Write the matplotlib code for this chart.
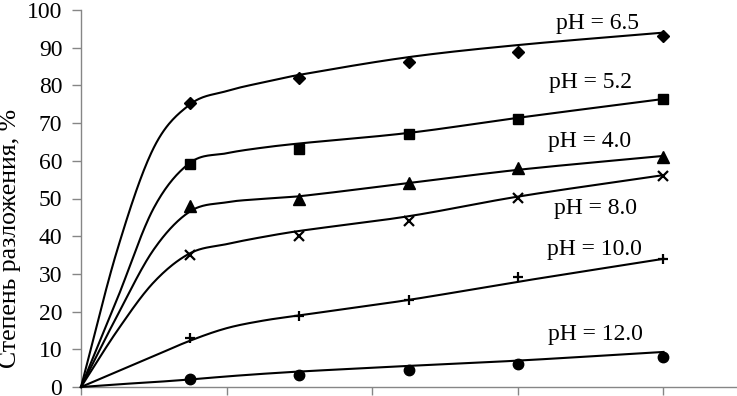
import numpy as np
import matplotlib.pyplot as plt

plt.rcParams['font.family'] = ['Liberation Serif', 'DejaVu Serif']

# время отбора проб (точки) и сетка для сглаженных кривых
t_pts = [15, 30, 45, 60, 80]
t_line = [0, 5, 10, 15, 20, 25, 30, 45, 60, 80]

labels = ['pH = 6.5', 'pH = 5.2', 'pH = 4.0', 'pH = 8.0', 'pH = 10.0', 'pH = 12.0']
markers = ['D', 's', '^', 'x', '+', 'o']

# экспериментальные точки
pts_65 = [75.2, 81.9, 86.1, 88.9, 93.2]
pts_52 = [59.2, 63.0, 67.1, 71.1, 76.4]
pts_40 = [48.0, 50.0, 54.0, 58.0, 61.0]
pts_80 = [35.0, 40.0, 44.1, 50.2, 56.0]
pts_100 = [12.9, 18.9, 23.1, 29.1, 33.9]
pts_120 = [2.0, 3.2, 4.5, 6.1, 7.9]

# сглаженные кривые
line_65 = [0, 36.5, 63.5, 75.0, 78.5, 80.8, 82.8, 87.5, 90.7, 94.0]
line_52 = [0, 23.5, 47.5, 59.5, 62.0, 63.5, 64.6, 67.4, 71.4, 76.4]
line_40 = [0, 19.0, 36.5, 46.6, 49.0, 49.9, 50.6, 54.1, 57.6, 61.3]
line_80 = [0, 15.0, 27.8, 35.5, 37.9, 39.8, 41.4, 45.3, 50.5, 56.2]
line_100 = [0, 4.1, 8.2, 12.3, 15.6, 17.6, 19.0, 23.1, 27.9, 34.0]
line_120 = [0, 0.7, 1.3, 2.0, 2.8, 3.5, 4.1, 5.6, 7.0, 9.3]

# позиции подписей
lab_x = [70.9, 70.0, 69.8, 70.6, 70.5, 70.6]
lab_y = [96.3, 80.7, 65.1, 47.4, 36.5, 13.9]

pts = [pts_65, pts_52, pts_40, pts_80, pts_100, pts_120]
lines = [line_65, line_52, line_40, line_80, line_100, line_120]


def smooth(x, y, n=30):
    # кубический эрмитов сплайн (как сглаживание в Excel)
    x = np.asarray(x, float)
    y = np.asarray(y, float)
    m = np.zeros_like(y)
    m[1:-1] = (y[2:] - y[:-2]) / (x[2:] - x[:-2])
    m[0] = (y[1] - y[0]) / (x[1] - x[0])
    m[-1] = (y[-1] - y[-2]) / (x[-1] - x[-2])
    xs, ys = [], []
    for i in range(len(x) - 1):
        h = x[i + 1] - x[i]
        t = np.linspace(0, 1, n)
        h00 = 2*t**3 - 3*t**2 + 1
        h10 = t**3 - 2*t**2 + t
        h01 = -2*t**3 + 3*t**2
        h11 = t**3 - t**2
        xs.append(x[i] + t*h)
        ys.append(h00*y[i] + h10*h*m[i] + h01*y[i + 1] + h11*h*m[i + 1])
    return np.concatenate(xs), np.concatenate(ys)


fig = plt.figure(figsize=(7.37, 3.96), dpi=100)
ax = fig.add_axes([81/737, 9/396, 656/737, 377/396])

msizes = [6.5, 7.5, 8, 7, 7, 7.5]
for y_l, y_p, mk, ms, lab, lx, ly in zip(lines, pts, markers, msizes, labels, lab_x, lab_y):
    xs, ys = smooth(t_line, y_l)
    ax.plot(xs, ys, color='black', lw=1.5, clip_on=False, zorder=3)
    ax.plot(t_pts, y_p, linestyle='none', marker=mk, ms=ms, color='black',
            mew=1.6 if mk in ('x', '+') else 1, clip_on=False, zorder=4)
    ax.text(lx, ly, lab, ha='center', va='center', fontsize=17)

ax.set_xlim(0, 90.1)
ax.set_ylim(0, 100)
ax.set_yticks(range(0, 101, 10))
ax.set_xticks([0, 20, 40, 60, 80])
ax.set_xticklabels([])
ax.tick_params(axis='y', direction='out', length=6.5, width=1, color='#868686',
               labelsize=17, pad=7)
ax.tick_params(axis='x', direction='out', length=6, width=1, color='#868686')
for s in ['top', 'right']:
    ax.spines[s].set_visible(False)
for s in ['left', 'bottom']:
    ax.spines[s].set_color('#868686')
    ax.spines[s].set_linewidth(1)

ax.set_ylabel('Степень разложения, %', fontsize=18.5)
ax.yaxis.set_label_coords(-0.0915, 0.395)

fig.savefig('out.png', dpi=100)
